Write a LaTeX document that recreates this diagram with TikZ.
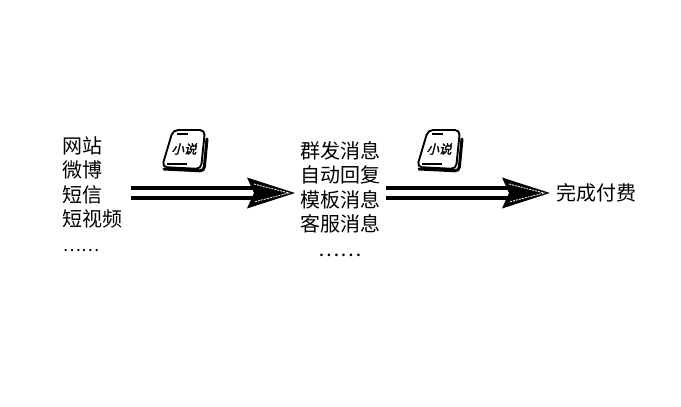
\documentclass[tikz,border=0pt]{standalone}
\usepackage{fontspec}
\setmainfont{Noto Sans CJK SC}
\newfontfamily\bookfont[FakeSlant=0.25,FakeBold=2]{Noto Sans CJK SC}
\usetikzlibrary{arrows.meta, positioning}
\newcommand{\flowhead}[1]{\draw[headline, shift={(#1)}] (-41,-9) -- (-6,0) -- (-41,9);}
\tikzset{
    x=1pt, y=-1pt,
    listnode/.style={inner sep=0pt, outer sep=0pt, font=\fontsize{20pt}{24.5pt}\selectfont},
    flow/.style={line width=4pt, double=white, double distance=6pt,
        -{Stealth[length=48pt, width=31pt, inset=7pt, line width=0pt]}},
    headline/.style={white, line width=0.8pt, dash pattern=on 2pt off 1pt},
    pics/bookicon/.style={code={
        \draw[line width=3pt, line cap=round, rounded corners=4pt] (23,-12) -- (20,20) -- (-20,18);
        \draw[line width=1.9pt, fill=white, rounded corners=5pt]
            (-11,-21) -- (21,-21) -- (17,18) -- (-22,16) -- cycle;
        \draw[line width=1.2pt] (-7,-17) -- (4,-17);
        \draw[line width=1.2pt] (-17,13) -- (3,13);
        \node[inner sep=0pt, font=\bookfont\fontsize{12.5pt}{12.5pt}\selectfont] (-title) at (0,-2) {小说};
    }},
}
\begin{document}
\begin{tikzpicture}
  \useasboundingbox (0,0) rectangle (681,407);
  % lists
  \node[listnode, align=left] (src) at (93,194) {网站\\微博\\短信\\短视频\\{\fontsize{17pt}{17pt}\selectfont ……}};
  \node[listnode, align=center] (msg) at (340,199) {群发消息\\自动回复\\模板消息\\客服消息\\……};
  \node[listnode, anchor=west] (pay) at (556,193) {完成付费};
  % arrows
  \coordinate[right=8 of src.east |- pay] (srcout);
  \coordinate[left=5 of msg.west |- pay] (msgin);
  \coordinate[right=6 of msg.east |- pay] (msgout);
  \coordinate[left=6 of pay.west] (payin);
  \draw[flow] (srcout) -- (msgin);
  \draw[flow] (msgout) -- (payin);
  \flowhead{msgin}
  \flowhead{payin}
  % books
  \pic (booka) at (184,151) {bookicon};
  \pic (bookb) at (439,151) {bookicon};
\end{tikzpicture}
\end{document}
